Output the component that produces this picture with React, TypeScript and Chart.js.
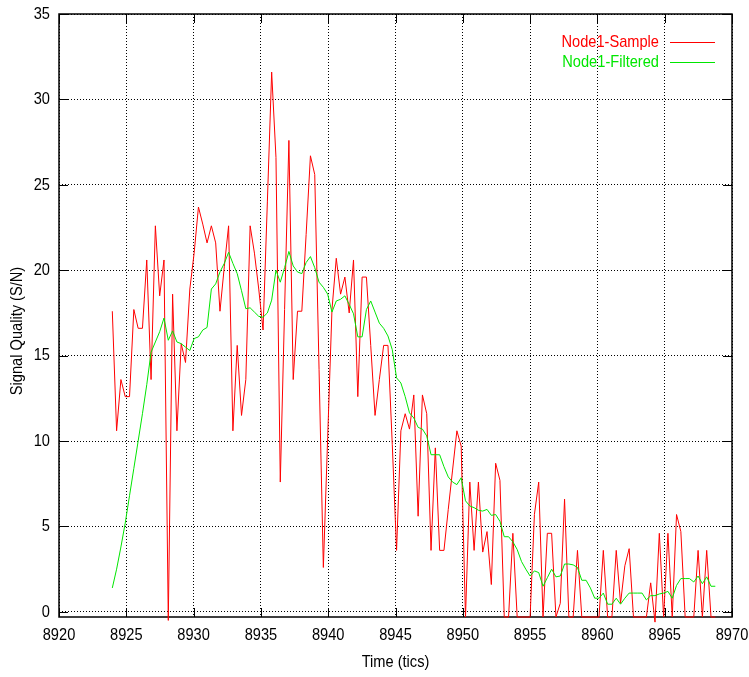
import { useEffect, useRef } from 'react';
import { Chart, registerables } from 'chart.js';

Chart.register(...registerables);

// Time stamps (tics) of each sample
const times = [
  8923.96, 8924.28, 8924.60, 8924.92, 8925.24, 8925.56, 8925.88, 8926.20, 8926.52, 8926.84,
  8927.16, 8927.48, 8927.80, 8928.12, 8928.44, 8928.76, 8929.08, 8929.40, 8929.72, 8930.04,
  8930.36, 8930.68, 8931.00, 8931.32, 8931.64, 8931.96, 8932.28, 8932.60, 8932.92, 8933.24,
  8933.56, 8933.88, 8934.20, 8934.52, 8934.84, 8935.16, 8935.48, 8935.80, 8936.12, 8936.44,
  8936.76, 8937.08, 8937.40, 8937.72, 8938.04, 8938.36, 8938.68, 8939.00, 8939.32, 8939.64,
  8939.96, 8940.28, 8940.60, 8940.92, 8941.24, 8941.56, 8941.88, 8942.20, 8942.52, 8942.84,
  8943.16, 8943.48, 8943.80, 8944.12, 8944.44, 8944.76, 8945.08, 8945.40, 8945.72, 8946.04,
  8946.36, 8946.68, 8947.00, 8947.32, 8947.64, 8947.96, 8948.28, 8948.60, 8948.92, 8949.24,
  8949.56, 8949.88, 8950.20, 8950.52, 8950.84, 8951.16, 8951.48, 8951.80, 8952.12, 8952.44,
  8952.76, 8953.08, 8953.40, 8953.72, 8954.04, 8954.36, 8954.68, 8955.00, 8955.32, 8955.64,
  8955.96, 8956.28, 8956.60, 8956.92, 8957.24, 8957.56, 8957.88, 8958.20, 8958.52, 8958.84,
  8959.16, 8959.48, 8959.80, 8960.12, 8960.44, 8960.76, 8961.08, 8961.40, 8961.72, 8962.04,
  8962.36, 8962.68, 8963.00, 8963.32, 8963.64, 8963.96, 8964.28, 8964.60, 8964.92, 8965.24,
  8965.56, 8965.88, 8966.20, 8966.52, 8966.84, 8967.16, 8967.48, 8967.80, 8968.12, 8968.44,
  8968.76,
];

// Node1-Sample (red)
const sampleValues = [
  17.6, 10.6, 13.6, 12.6, 12.6, 17.7, 16.6, 16.6, 20.6, 13.6,
  22.6, 18.5, 20.6, -0.5, 18.6, 10.6, 15.7, 14.6, 18.9, 21.0,
  23.7, 22.7, 21.6, 22.6, 21.6, 17.6, 20.2, 22.6, 10.6, 15.6,
  11.5, 13.6, 22.6, 21.0, 18.9, 16.5, 24.0, 31.6, 26.6, 7.6,
  17.7, 27.6, 13.6, 17.6, 17.6, 22.1, 26.7, 25.6, 14.2, 2.6,
  10.2, 17.7, 20.7, 18.6, 19.6, 17.5, 20.6, 12.6, 19.6, 19.6,
  15.6, 11.5, 13.6, 15.6, 15.6, 9.8, 3.6, 10.6, 11.6, 10.7,
  12.7, 5.6, 12.7, 11.6, 3.6, 9.6, 3.6, 3.6, 6.0, 8.3,
  10.6, 9.7, -0.3, 7.6, 3.6, 7.6, 3.5, 4.7, 1.6, 8.7,
  7.7, -0.3, -0.3, 4.6, -0.3, -0.3, -0.3, -0.3, 5.7, 7.6,
  -0.3, 4.6, 4.6, -0.3, 0.5, 6.6, -0.3, -0.3, 3.6, -0.3,
  -0.3, -0.3, -0.3, -0.3, 3.6, -0.3, -0.3, 3.6, 0.5, 2.7,
  3.7, -0.3, -0.3, -0.3, -0.3, 1.7, -0.6, 4.6, -0.3, 4.6,
  -0.3, 5.7, 4.7, -0.3, -0.3, -0.3, 3.6, -0.3, 3.6, -0.3,
  -0.3,
];

// Node1-Filtered (green)
const filteredValues = [
  1.4, 2.5, 3.8, 5.2, 6.8, 8.4, 10.0, 11.6, 13.3, 15.2,
  15.8, 16.4, 17.2, 15.9, 16.45, 15.8, 15.7, 15.5, 15.3, 16.0,
  16.1, 16.5, 16.65, 18.9, 19.2, 19.9, 20.4, 21.05, 20.4, 19.8,
  18.8, 17.75, 17.8, 17.55, 17.3, 17.25, 17.5, 18.25, 20.0, 19.3,
  20.15, 21.1, 20.25, 19.9, 19.8, 20.45, 20.8, 20.15, 19.3, 19.0,
  18.6, 17.55, 18.2, 18.3, 18.5, 18.0, 17.45, 16.1, 16.1, 17.7,
  18.2, 17.55, 16.9, 16.6, 16.15, 15.35, 13.7, 13.4, 12.6, 11.65,
  11.35, 10.8, 10.7, 10.3, 9.2, 9.2, 9.2, 8.5, 7.9, 7.6,
  7.45, 7.85, 6.5, 6.2, 6.1, 5.95, 5.9, 6.0, 5.65, 5.7,
  5.3, 4.4, 4.4, 4.1, 3.65, 2.95, 2.5, 2.1, 2.4, 2.3,
  1.5, 2.0, 2.5, 2.05, 2.1, 2.8, 2.8, 2.75, 2.6, 1.85,
  1.85, 1.4, 0.8, 0.8, 1.1, 0.45, 0.45, 0.8, 0.45, 0.8,
  1.1, 1.1, 1.1, 1.1, 0.7, 0.95, 0.95, 1.05, 1.1, 1.2,
  0.8, 1.55, 1.95, 1.95, 1.95, 1.75, 2.1, 1.65, 2.05, 1.5,
  1.5,
];

const seriesLabels = ['Node1-Sample', 'Node1-Filtered'];
const seriesColors = ['#ff0000', '#00e600'];

const xTicks = [8920, 8925, 8930, 8935, 8940, 8945, 8950, 8955, 8960, 8965, 8970];
const yTicks = [0, 5, 10, 15, 20, 25, 30, 35];
const yTitle = 'Signal Quality (S/N)';

const FAMILY = "'Liberation Sans', Arial, Helvetica, sans-serif";
const FONT = { family: FAMILY, size: 17 };
const TEXT_SX = 0.86; // horizontal squeeze of the narrow gnuplot lettering

const narrowTextPlugin = {
  id: 'narrowText',
  beforeInit(chart: any) {
    const ctx = chart.ctx;
    const orig = ctx.fillText.bind(ctx);
    ctx.fillText = function (text: string, x: number, y: number, maxWidth?: number) {
      ctx.save();
      ctx.translate(x, y);
      ctx.scale(TEXT_SX, 1);
      if (maxWidth === undefined) orig(text, 0, 0);
      else orig(text, 0, 0, maxWidth / TEXT_SX);
      ctx.restore();
    };
  },
};

const framePlugin = {
  id: 'gnuFrame',
  beforeDatasetsDraw(chart: any) {
    const { ctx, chartArea: a, scales } = chart;
    const x = scales.x;
    const y = scales.y;
    ctx.save();
    ctx.strokeStyle = '#000';
    ctx.lineWidth = 1;
    ctx.setLineDash([]);
    const seg = (x1: number, y1: number, x2: number, y2: number) => {
      ctx.beginPath();
      ctx.moveTo(x1, y1);
      ctx.lineTo(x2, y2);
      ctx.stroke();
    };
    for (const v of xTicks) {
      const px = Math.round(x.getPixelForValue(v)) + 0.5;
      seg(px, a.bottom, px, a.bottom - 9);
      seg(px, a.top, px, a.top + 9);
    }
    for (const v of yTicks) {
      const py = Math.round(y.getPixelForValue(v)) + 0.5;
      seg(a.left, py, a.left + 9, py);
      seg(a.right, py, a.right - 9, py);
    }
    ctx.lineWidth = 1.5;
    ctx.strokeRect(a.left, a.top, a.right - a.left, a.bottom - a.top);
    ctx.restore();
  },
  afterDraw(chart: any) {
    const { ctx, chartArea: a } = chart;
    ctx.save();
    ctx.setLineDash([]);
    ctx.font = `17px ${FAMILY}`;
    ctx.textBaseline = 'middle';
    // legend, text left of the line sample (gnuplot style)
    chart.data.datasets.forEach((ds: any, i: number) => {
      const yy = Math.round(a.top + 28 + i * 19.5) + 0.5;
      const col = seriesColors[i];
      ctx.textAlign = 'right';
      ctx.fillStyle = col;
      ctx.fillText(ds.label, a.right - 73, yy);
      ctx.strokeStyle = col;
      ctx.lineWidth = 1;
      ctx.beginPath();
      ctx.moveTo(a.right - 62, yy);
      ctx.lineTo(a.right - 17, yy);
      ctx.stroke();
    });
    // y axis title
    ctx.fillStyle = '#000';
    ctx.textAlign = 'center';
    ctx.translate(17, 331);
    ctx.rotate(-Math.PI / 2);
    ctx.fillText(yTitle, 0, 0);
    ctx.restore();
  },
};

export default function App() {
  const canvasRef = useRef<HTMLCanvasElement | null>(null);

  useEffect(() => {
    const canvas = canvasRef.current;
    if (!canvas) return;
    const seriesValues = [sampleValues, filteredValues];
    const chart = new Chart(canvas, {
      type: 'line',
      data: {
        datasets: seriesValues.map((vals, s) => ({
          label: seriesLabels[s],
          data: times.map((t, i) => ({ x: t, y: vals[i] })),
          borderColor: seriesColors[s],
          backgroundColor: seriesColors[s],
          borderWidth: 1,
          pointRadius: 0,
          tension: 0,
          fill: false,
          clip: 6,
          order: s === 0 ? 1 : 0,
        })),
      },
      options: {
        animation: false,
        responsive: false,
        devicePixelRatio: 1,
        layout: { padding: { top: 14, right: 17, left: 0, bottom: 0 } },
        plugins: {
          legend: { display: false },
          tooltip: { enabled: false },
        },
        scales: {
          x: {
            type: 'linear',
            min: 8920,
            max: 8970,
            afterBuildTicks: (s: any) => {
              s.ticks = xTicks.map((value) => ({ value }));
            },
            afterFit: (s: any) => {
              s.height = 60;
              s.paddingLeft = 0;
              s.paddingRight = 0;
            },
            grid: { color: '#000', lineWidth: 1, drawTicks: false },
            border: { display: false, dash: [1, 2] },
            ticks: {
              color: '#000',
              font: FONT,
              padding: 8,
              maxRotation: 0,
              autoSkip: false,
              callback: (v: any) => String(v),
            },
            title: {
              display: true,
              text: 'Time (tics)',
              color: '#000',
              font: FONT,
              padding: { top: 0, bottom: 4 },
            },
          },
          y: {
            type: 'linear',
            min: -0.3,
            max: 35,
            afterBuildTicks: (s: any) => {
              s.ticks = yTicks.map((value) => ({ value }));
            },
            afterFit: (s: any) => {
              s.width = 59;
              s.paddingTop = 0;
              s.paddingBottom = 0;
            },
            grid: { color: '#000', lineWidth: 1, drawTicks: false },
            border: { display: false, dash: [1, 2] },
            ticks: {
              color: '#000',
              font: FONT,
              padding: 9,
              autoSkip: false,
              callback: (v: any) => String(v),
            },
          },
        },
      },
      plugins: [narrowTextPlugin, framePlugin],
    } as any);
    return () => chart.destroy();
  }, []);

  return (
    <div style={{ position: 'fixed', left: 0, top: 0, width: 749, height: 677, background: '#fff' }}>
      <canvas ref={canvasRef} width={749} height={677} style={{ width: 749, height: 677 }} />
    </div>
  );
}
